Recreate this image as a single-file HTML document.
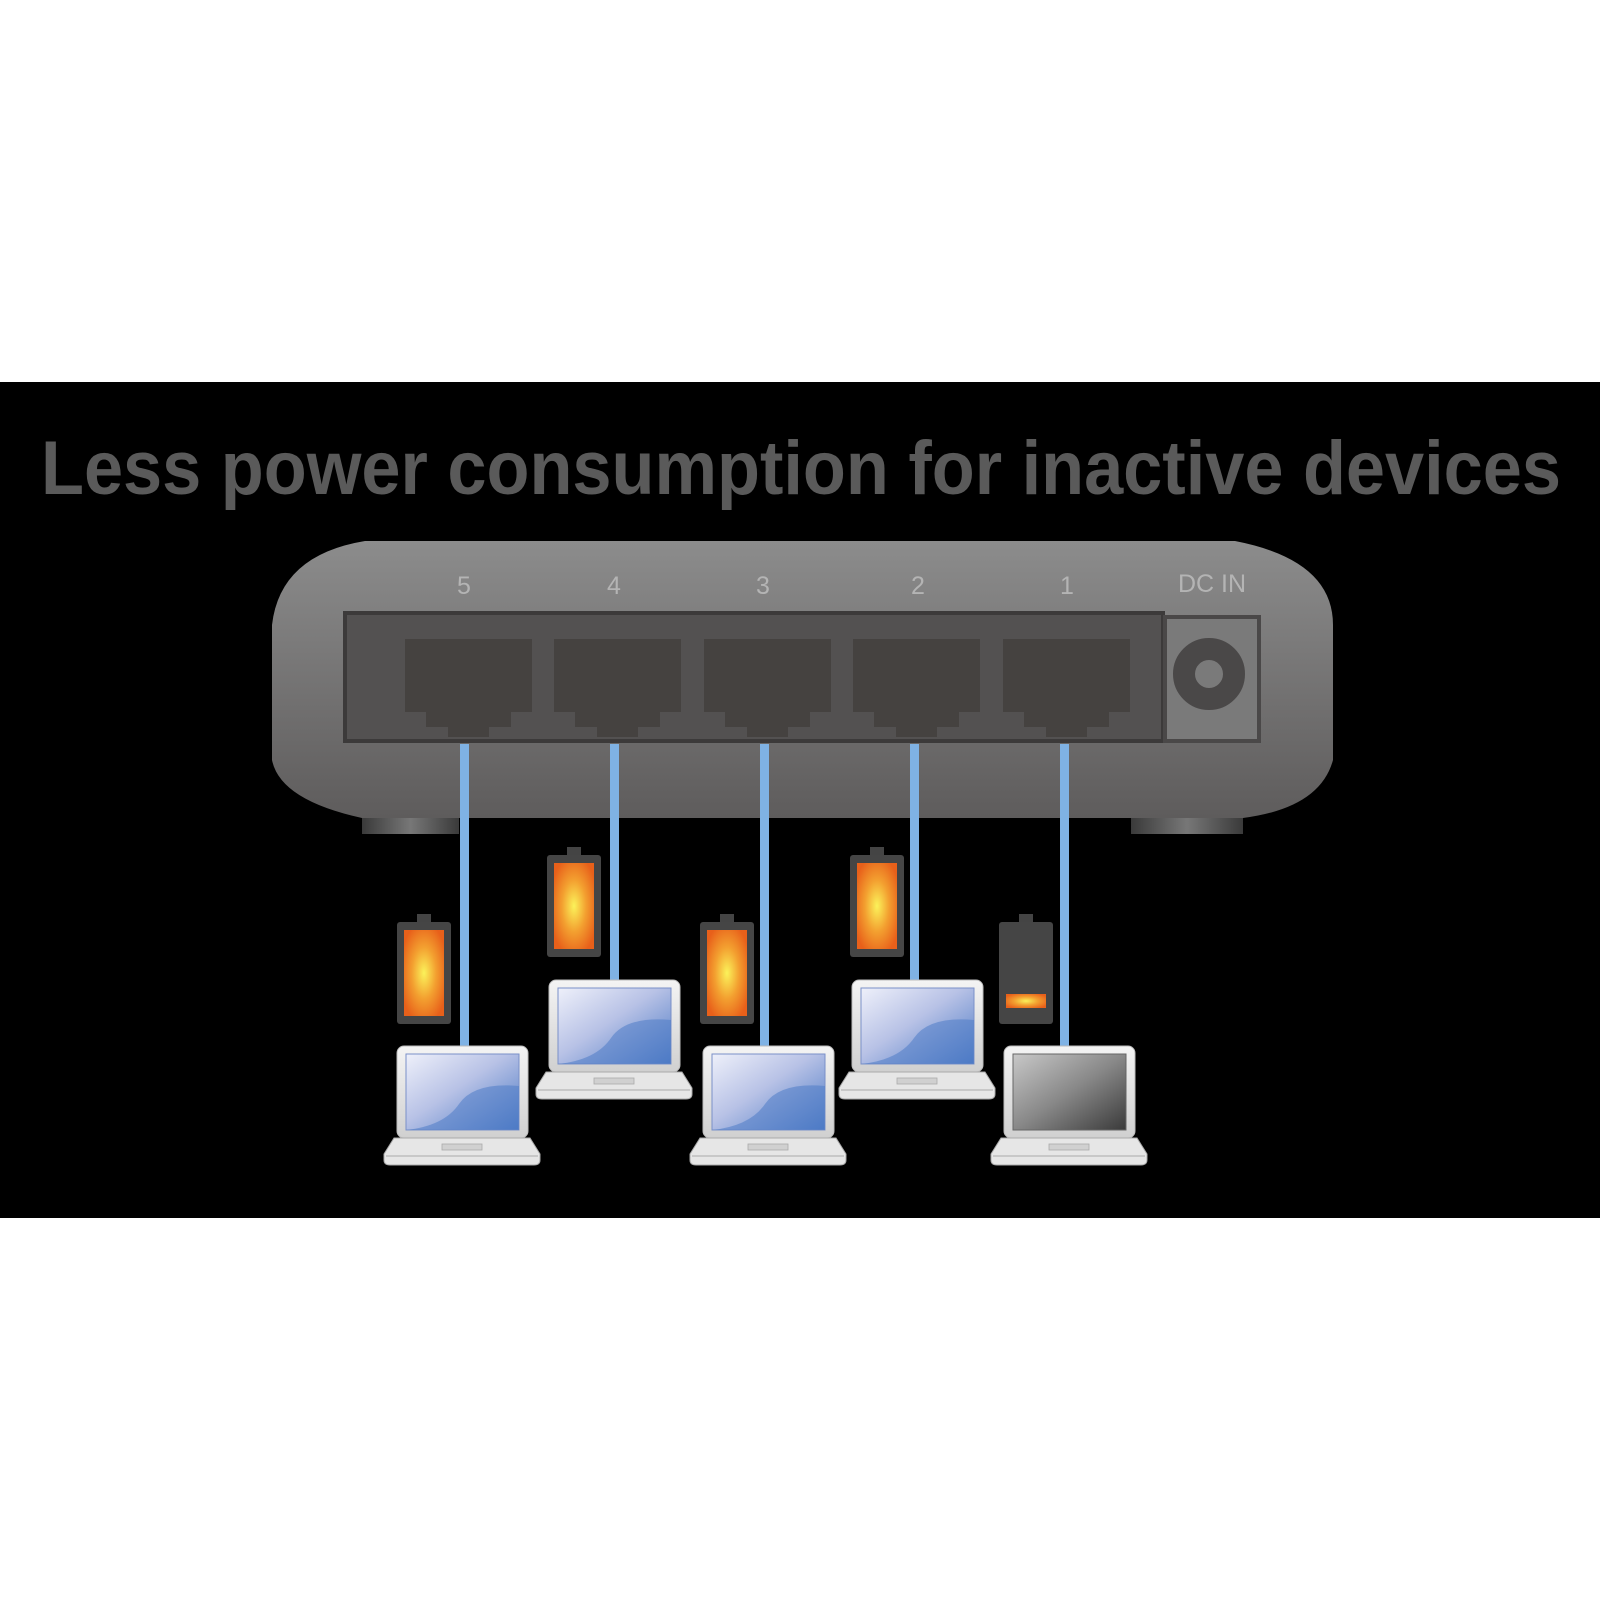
<!DOCTYPE html>
<html><head><meta charset="utf-8"><style>
html,body{margin:0;padding:0;background:#fff;}
svg{display:block;}
</style></head><body>
<svg width="1600" height="1600" viewBox="0 0 1600 1600" xmlns="http://www.w3.org/2000/svg">
<defs>
<linearGradient id="body" x1="0" y1="0" x2="0" y2="1">
<stop offset="0" stop-color="#8c8c8c"/><stop offset="1" stop-color="#5e5c5c"/>
</linearGradient>
<radialGradient id="bat" cx="0.5" cy="0.5" r="0.6">
<stop offset="0" stop-color="#fbf25a"/><stop offset="0.5" stop-color="#f3a030"/><stop offset="1" stop-color="#e8601a"/>
</radialGradient>
<linearGradient id="scr" x1="0" y1="0" x2="1" y2="1">
<stop offset="0" stop-color="#eef0fa"/><stop offset="0.45" stop-color="#b8c2e6"/><stop offset="1" stop-color="#4a78c4"/>
</linearGradient>
<linearGradient id="scrg" x1="0" y1="0" x2="1" y2="1">
<stop offset="0" stop-color="#c8c8c8"/><stop offset="0.5" stop-color="#888"/><stop offset="1" stop-color="#3a3a3a"/>
</linearGradient>
<linearGradient id="lid" x1="0" y1="0" x2="0" y2="1">
<stop offset="0" stop-color="#f4f4f4"/><stop offset="1" stop-color="#d0d0d0"/>
</linearGradient>
<linearGradient id="foot" x1="0" y1="0" x2="1" y2="0">
<stop offset="0" stop-color="#3a3a3a"/><stop offset="0.5" stop-color="#777"/><stop offset="1" stop-color="#3a3a3a"/>
</linearGradient>
<g id="port">
<path d="M0 0 H127 V73 H106 V88 H84 V98 H43 V88 H21 V73 H0 Z" fill="#454240"/>
</g>
<g id="battery">
<rect x="20" y="-8" width="14" height="10" fill="#444"/>
<rect x="0" y="0" width="54" height="102" rx="3" fill="#454545"/>
<rect x="7" y="8" width="40" height="86" fill="url(#bat)"/>
</g>
<g id="laptopBase">
<rect x="13" y="0" width="131" height="92" rx="7" fill="url(#lid)" stroke="#bbb" stroke-width="1"/>
<path d="M10 92 H146 L156 108 V114 Q156 119 150 119 H6 Q0 119 0 114 V108 Z" fill="#e6e6e6" stroke="#aaa" stroke-width="1"/>
<line x1="2" y1="110" x2="154" y2="110" stroke="#bdbdbd" stroke-width="1.5"/>
<rect x="58" y="98" width="40" height="6" fill="#d0d0d0" stroke="#aaa" stroke-width="0.8"/>
</g>
<g id="laptop">
<use href="#laptopBase"/>
<rect x="22" y="8" width="113" height="76" fill="url(#scr)" stroke="#7a90c8" stroke-width="1"/>
<path d="M22 84 Q60 80 75 58 Q90 36 135 40 V84 Z" fill="#4f7cc6" opacity="0.55"/>
</g>
<g id="laptopOff">
<use href="#laptopBase"/>
<rect x="22" y="8" width="113" height="76" fill="url(#scrg)" stroke="#666" stroke-width="1"/>
</g>
</defs>

<rect x="0" y="382" width="1600" height="836" fill="#000"/>

<text x="801" y="494" text-anchor="middle" font-family="Liberation Sans, sans-serif" font-weight="bold" font-size="76" fill="#5a5a5a" textLength="1520" lengthAdjust="spacingAndGlyphs">Less power consumption for inactive devices</text>

<rect x="362" y="812" width="97" height="22" fill="url(#foot)"/>
<rect x="1131" y="812" width="112" height="22" fill="url(#foot)"/>
<path d="M365 541 H1235 Q1333 560 1333 625 V760 Q1320 808 1243 818 H362 Q280 800 272 760 V625 Q280 555 365 541 Z" fill="url(#body)"/>
<rect x="345" y="613" width="818" height="128" fill="#535151" stroke="#3c3a3a" stroke-width="4"/>
<rect x="1165" y="617" width="94" height="124" fill="#7a7a7a" stroke="#4a4848" stroke-width="4"/>
<circle cx="1209" cy="674" r="25" fill="none" stroke="#4a4848" stroke-width="22"/>
<circle cx="1209" cy="674" r="13" fill="#7a7a7a"/>

<use href="#port" x="405" y="639"/>
<use href="#port" x="554" y="639"/>
<use href="#port" x="704" y="639"/>
<use href="#port" x="853" y="639"/>
<use href="#port" x="1003" y="639"/>

<g font-family="Liberation Sans, sans-serif" font-size="25" fill="#b4b4b4" text-anchor="middle">
<text x="464" y="594">5</text><text x="614" y="594">4</text><text x="763" y="594">3</text><text x="918" y="594">2</text><text x="1067" y="594">1</text>
<text x="1212" y="592">DC  IN</text>
</g>

<g fill="#7fb2e4">
<rect x="460" y="744" width="9" height="304"/>
<rect x="610" y="744" width="9" height="238"/>
<rect x="760" y="744" width="9" height="304"/>
<rect x="910" y="744" width="9" height="238"/>
<rect x="1060" y="744" width="9" height="304"/>
</g>

<use href="#battery" x="397" y="922"/>
<use href="#battery" x="547" y="855"/>
<use href="#battery" x="700" y="922"/>
<use href="#battery" x="850" y="855"/>
<g transform="translate(999,922)">
<rect x="20" y="-8" width="14" height="10" fill="#444"/>
<rect x="0" y="0" width="54" height="102" rx="3" fill="#454545"/>
<rect x="7" y="72" width="40" height="14" fill="url(#bat)"/>
</g>

<use href="#laptop" x="384" y="1046"/>
<use href="#laptop" x="536" y="980"/>
<use href="#laptop" x="690" y="1046"/>
<use href="#laptop" x="839" y="980"/>
<use href="#laptopOff" x="991" y="1046"/>
</svg>
</body></html>
